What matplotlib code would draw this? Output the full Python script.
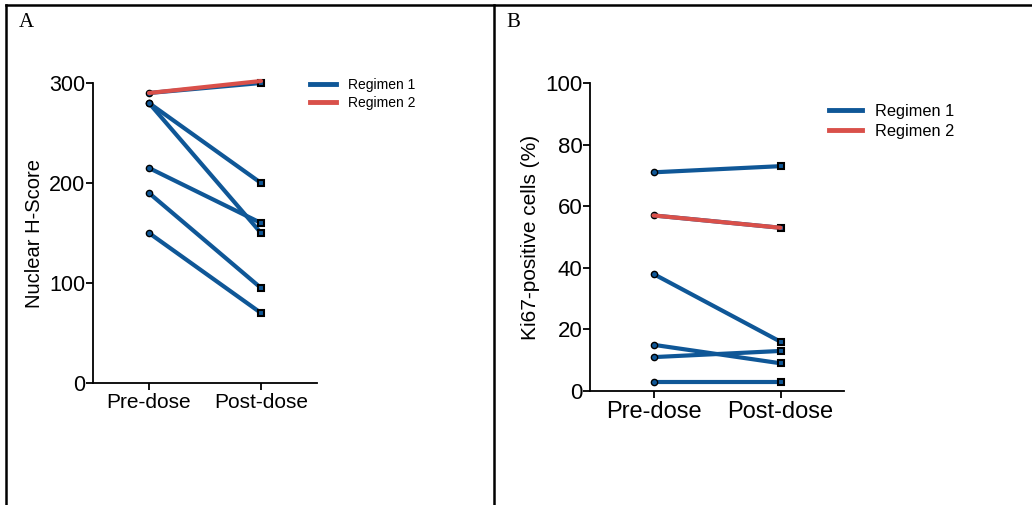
import matplotlib
matplotlib.use("Agg")
import matplotlib.pyplot as plt
from matplotlib.lines import Line2D

plt.rcParams['font.family'] = ['Liberation Sans', 'DejaVu Sans']

## data
groups = ['Pre-dose', 'Post-dose']
hscore_r1_pre = [290, 280, 280, 215, 190, 150]
hscore_r1_post = [300, 200, 150, 160, 95, 70]
hscore_r2_pre = [290]
hscore_r2_post = [302]
ki67_r1_pre = [71, 57, 38, 15, 11, 3]
ki67_r1_post = [73, 53, 16, 9, 13, 3]
ki67_r2_pre = [57]
ki67_r2_post = [53]
hscore_ticks = [0, 100, 200, 300]
ki67_ticks = [0, 20, 40, 60, 80, 100]

blue = '#0f5797'
red = '#d9504a'

W, H = 1032, 505
fig = plt.figure(figsize=(W / 100, H / 100), dpi=100)


def fx(px):
    return px / W


def fy(py):
    return 1 - py / H


def panel(rect, pre1, post1, pre2, post2, ticks, ylabel, xtick_fs, ytick_fs, label_fs):
    ax = fig.add_axes(rect)
    x = [0, 1]
    for a, b in zip(pre1, post1):
        ax.plot(x, [a, b], color=blue, lw=3, solid_capstyle='round', zorder=2, clip_on=False)
    for a, b in zip(pre1, post1):
        ax.plot([0], [a], 'o', ms=4.5, mfc=blue, mec='black', mew=1, zorder=3, clip_on=False)
        ax.plot([1], [b], 's', ms=4.5, mfc=blue, mec='black', mew=1.5, zorder=3, clip_on=False)
    for a, b in zip(pre2, post2):
        ax.plot(x, [a, b], color=red, lw=3, solid_capstyle='round', zorder=4, clip_on=False)
    ax.set_xlim(-0.5, 1.5)
    ax.set_ylim(ticks[0], ticks[-1])
    ax.set_yticks(ticks)
    ax.set_xticks(x)
    ax.set_xticklabels(groups)
    for s in ['top', 'right']:
        ax.spines[s].set_visible(False)
    for s in ['left', 'bottom']:
        ax.spines[s].set_linewidth(1.3)
    ax.tick_params(direction='out', length=5, width=1.3)
    ax.tick_params(axis='x', labelsize=xtick_fs, pad=2)
    ax.tick_params(axis='y', labelsize=ytick_fs, pad=0.5)
    ax.set_ylabel(ylabel, fontsize=label_fs, labelpad=4)
    return ax


axA = panel([fx(93), fy(383), fx(317) - fx(93), fy(83) - fy(383)],
            hscore_r1_pre, hscore_r1_post, hscore_r2_pre, hscore_r2_post,
            hscore_ticks, 'Nuclear H-Score', 15, 15.5, 14.5)
axB = panel([fx(590), fy(391), fx(844) - fx(590), fy(83) - fy(391)],
            ki67_r1_pre, ki67_r1_post, ki67_r2_pre, ki67_r2_post,
            ki67_ticks, 'Ki67-positive cells (%)', 17, 16, 15)

## legends
handles = [Line2D([], [], color=blue, lw=3.5), Line2D([], [], color=red, lw=3.5)]
fig.legend(handles, ['Regimen 1', 'Regimen 2'], loc='upper left',
           bbox_to_anchor=(fx(297), fy(65)), frameon=False, fontsize=10,
           handlelength=1.9, handletextpad=0.9, labelspacing=0.3)
fig.legend(handles, ['Regimen 1', 'Regimen 2'], loc='upper left',
           bbox_to_anchor=(fx(814), fy(89)), frameon=False, fontsize=11.8,
           handlelength=2.0, handletextpad=0.8, labelspacing=0.3)

## panel letters
fig.text(fx(19), fy(27), 'A', fontsize=15, family='Liberation Serif')
fig.text(fx(506), fy(27), 'B', fontsize=15, family='Liberation Serif')

## frame lines
fig.add_artist(Line2D([fx(6), 1], [fy(4.5), fy(4.5)], color='black', lw=1.8))
fig.add_artist(Line2D([fx(6), fx(6)], [fy(4.5), 0], color='black', lw=1.8))
fig.add_artist(Line2D([fx(494), fx(494)], [fy(4.5), 0], color='black', lw=1.8))

fig.savefig('out.png', dpi=100)
